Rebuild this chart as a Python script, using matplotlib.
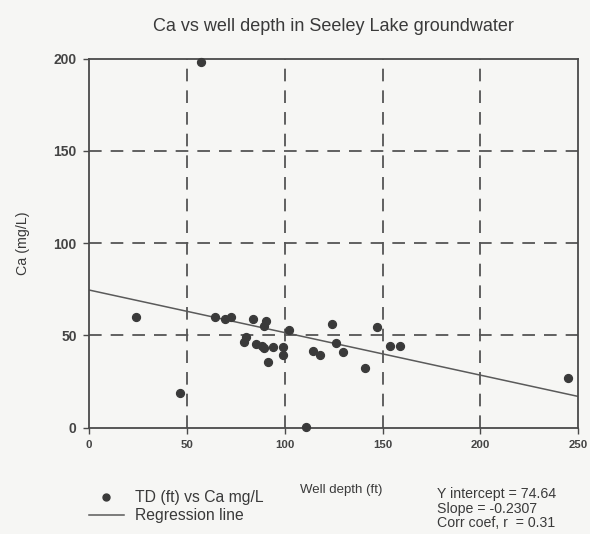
import matplotlib.pyplot as plt
from matplotlib.lines import Line2D

plt.rcParams['font.family'] = ['Liberation Sans', 'DejaVu Sans']

# TD (ft) vs Ca mg/L
depth = [24, 46.5, 57.3, 64.6, 69.5, 72.6, 84, 90.5, 89.3, 102.2, 80.4, 79.4,
         85.4, 88.3, 89.3, 94.2, 99.2, 99.2, 91.3, 111, 114.2, 117.9, 124.2,
         126.3, 130, 141.1, 147.1, 153.9, 159, 244.7]
ca = [60, 18.8, 198, 59.8, 58.9, 59.8, 59.2, 57.6, 54.9, 53.1, 49, 46.2,
      45.4, 44.4, 43.2, 43.5, 43.9, 39.6, 35.8, 0.3, 41.7, 39.4, 56.2,
      45.9, 40.8, 32.4, 54.6, 44.4, 44.1, 26.9]

intercept = 74.64
slope = -0.2307
r = 0.31
fit_x = [0, 250]
fit_y = [intercept + slope * x for x in fit_x]

ink = '#4a4a4a'
txt = '#3a3a3a'
fig = plt.figure(figsize=(5.9, 5.34), dpi=100, facecolor='#f6f6f4')
ax = fig.add_axes([0.151, 0.199, 0.829, 0.691])
ax.set_facecolor('#f6f6f4')

ax.plot(fit_x, fit_y, color='#5a5a5a', lw=1.1, zorder=2)
ax.scatter(depth, ca, s=32, color='#3a3a3a', zorder=3, clip_on=False)

ax.set_xlim(0, 250)
ax.set_ylim(0, 200)
ax.set_xticks([0, 50, 100, 150, 200, 250])
ax.set_yticks([0, 50, 100, 150, 200])
for v in [50, 100, 150, 200]:
    ax.axvline(v, color='#555555', lw=1.3, ls=(0, (7, 5)), zorder=1)
for v in [50, 100, 150]:
    ax.axhline(v, color='#555555', lw=1.3, ls=(0, (7, 5)), zorder=1)
for s in ax.spines.values():
    s.set_color(ink)
    s.set_linewidth(1.3)
ax.tick_params(length=4, width=1, colors=ink, pad=5)
ax.tick_params(axis='x', labelsize=8.2)
ax.tick_params(axis='y', labelsize=10)
for lab in ax.get_xticklabels() + ax.get_yticklabels():
    lab.set_fontweight('bold')
    lab.set_color('#444444')

ax.set_title('Ca vs well depth in Seeley Lake groundwater', fontsize=13,
             color=txt, pad=20)
ax.set_ylabel('Ca (mg/L)', fontsize=10.3, color=txt, labelpad=17)
fig.text(0.578, 0.0824, 'Well depth (ft)', fontsize=9.5, color=txt,
         ha='center', va='center')

handles = [Line2D([], [], marker='o', ls='none', color='#3a3a3a', markersize=5),
           Line2D([], [], color='#5a5a5a', lw=1.1)]
fig.legend(handles, ['TD (ft) vs Ca mg/L', 'Regression line'], loc='lower left',
           bbox_to_anchor=(0.151, 0.02), frameon=False, fontsize=11.3,
           borderpad=0, borderaxespad=0,
           handlelength=2.2, handletextpad=0.7, labelspacing=0.2,
           labelcolor=txt)

stats = [f'Y intercept = {intercept}', f'Slope = {slope}', f'Corr coef, r  = {r}']
for i, line in enumerate(stats):
    fig.text(0.7407, 0.0749 - i * 0.0275, line, fontsize=10.2, color=txt,
             ha='left', va='center')

fig.savefig('out.png', dpi=100, facecolor=fig.get_facecolor())
